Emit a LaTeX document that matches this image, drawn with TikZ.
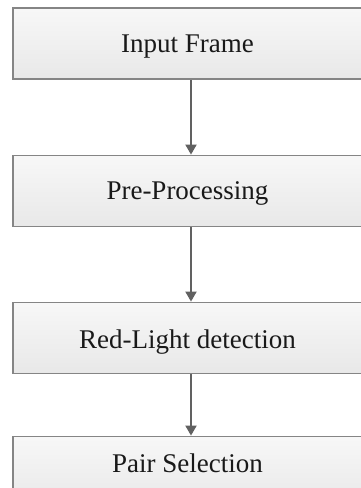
\documentclass[tikz,border=0pt]{standalone}
\usepackage{fontspec}
\setmainfont{Liberation Serif}
\usetikzlibrary{arrows.meta}
\begin{document}
\begin{tikzpicture}[x=1pt,y=1pt,
  stagebox/.style={draw=black!48, line width=1.8pt, rectangle, inner sep=0pt,
    minimum width=359pt, minimum height=71pt,
    top color=white!97!black, bottom color=white!91!black},
  stagetext/.style={anchor=base, text=black!90, font=\fontsize{27}{30}\selectfont, inner sep=0pt},
  flow/.style={draw=black!62, line width=1.8pt,
    -{Triangle[width=11pt,length=10pt]}, shorten >=0pt}]
  \useasboundingbox (0,0) rectangle (361,-488);
  \fill[white] (0,0) rectangle (361,-488);
  \clip (0,0) rectangle (361,-488);
  % process stages
  \node[stagebox] (b1) at (192.5,-43.5) {};
  \node[stagebox] (b2) at (192.5,-191) {};
  \node[stagebox] (b3) at (192.5,-338) {};
  \node[stagebox] (b4) at (192.5,-472) {};
  % stage captions
  \node[stagetext] (t1) at (187.5,-52) {Input Frame};
  \node[stagetext] (t2) at (187.5,-199) {Pre-Processing};
  \node[stagetext] (t3) at (187.5,-348) {Red-Light detection};
  \node[stagetext] (t4) at (187.5,-472.5) {Pair Selection};
  % connectors
  \draw[flow] ([xshift=-1.5pt]b1.south) -- ([xshift=-1.5pt]b2.north);
  \draw[flow] ([xshift=-1.5pt]b2.south) -- ([xshift=-1.5pt]b3.north);
  \draw[flow] ([xshift=-1.5pt]b3.south) -- ([xshift=-1.5pt]b4.north);
\end{tikzpicture}
\end{document}
